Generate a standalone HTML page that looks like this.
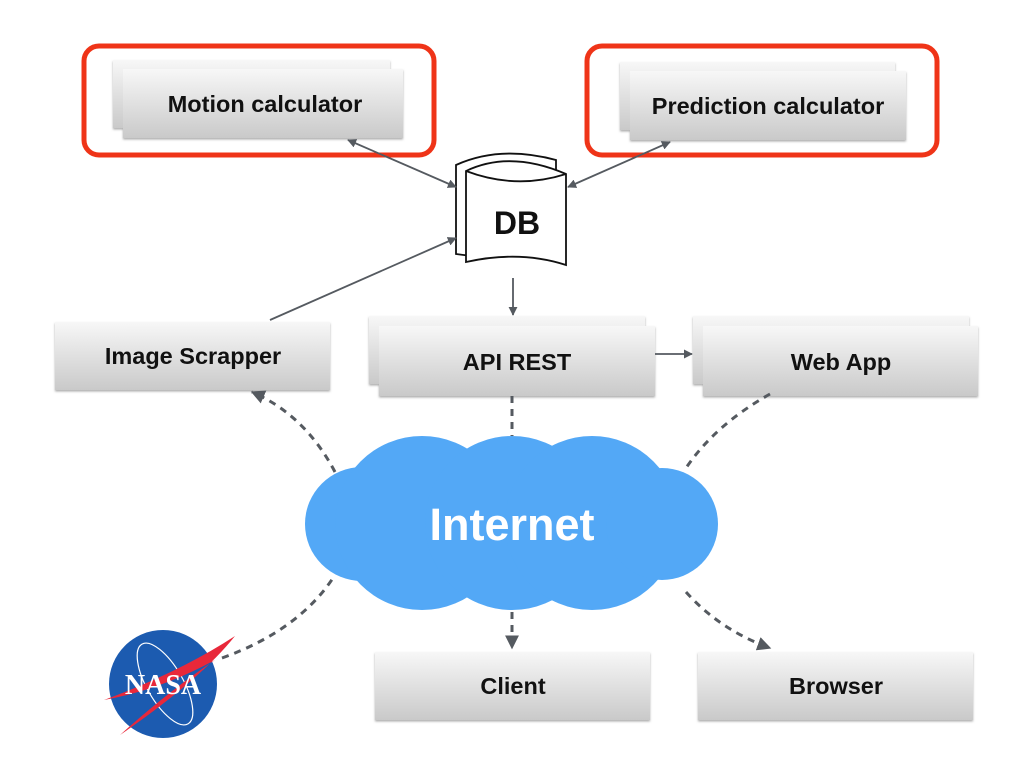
<!DOCTYPE html>
<html><head><style>body{margin:0;background:#fff}svg{display:block}</style></head><body>
<svg width="1024" height="768" viewBox="0 0 1024 768" xmlns="http://www.w3.org/2000/svg" font-family="Liberation Sans, sans-serif">
<defs>
<linearGradient id="g" x1="0" y1="0" x2="0" y2="1"><stop offset="0" stop-color="#f7f7f7"/><stop offset="1" stop-color="#c9c9c9"/></linearGradient>
<filter id="s" x="-5%" y="-5%" width="110%" height="120%"><feDropShadow dx="0" dy="1.5" stdDeviation="1" flood-color="#777" flood-opacity="0.6"/></filter>
<marker id="a" viewBox="0 0 10 10" refX="9" refY="5" markerWidth="9" markerHeight="9" orient="auto-start-reverse" markerUnits="userSpaceOnUse"><path d="M0,0L10,5L0,10z" fill="#555a60"/></marker>
<marker id="b" viewBox="0 0 10 10" refX="9" refY="5" markerWidth="14" markerHeight="14" orient="auto" markerUnits="userSpaceOnUse"><path d="M0,0L10,5L0,10z" fill="#555a60"/></marker>
</defs>
<g fill="url(#g)" filter="url(#s)">
<rect x="113" y="60" width="277" height="68"/><rect x="123" y="69" width="280" height="69"/>
<rect x="620" y="62" width="275" height="68"/><rect x="630" y="71" width="276" height="69"/>
<rect x="55" y="322" width="275" height="68"/>
<rect x="369" y="316" width="276" height="68"/><rect x="379" y="326" width="276" height="70"/>
<rect x="693" y="316" width="276" height="68"/><rect x="703" y="326" width="275" height="70"/>
<rect x="375" y="652" width="275" height="68"/>
<rect x="698" y="652" width="275" height="68"/>
</g>
<rect x="84" y="46" width="350" height="109" rx="15" fill="none" stroke="#ef3418" stroke-width="5"/>
<rect x="587" y="46" width="350" height="109" rx="15" fill="none" stroke="#ef3418" stroke-width="5"/>
<g font-weight="bold" font-size="23.5" text-anchor="middle" fill="#111">
<text x="265" y="112">Motion calculator</text>
<text x="768" y="114">Prediction calculator</text>
<text x="193" y="364">Image Scrapper</text>
<text x="517" y="370">API REST</text>
<text x="841" y="370">Web App</text>
<text x="513" y="694">Client</text>
<text x="836" y="694">Browser</text>
</g>
<g fill="#fff" stroke="#111" stroke-width="1.8">
<path d="M456,165 Q500,145 556,160 L556,248 Q510,262 456,254 Z"/>
<path d="M466,171 Q510,150 566,174 L566,265 Q520,250 466,262 Z"/>
<path d="M466,171 Q516,190 566,174" fill="none"/>
</g>
<text x="517" y="234" font-size="32" font-weight="bold" text-anchor="middle" fill="#111">DB</text>
<g stroke="#555a60" stroke-width="1.8" fill="none">
<line x1="348" y1="140" x2="456" y2="187" marker-start="url(#a)" marker-end="url(#a)"/>
<line x1="670" y1="142" x2="568" y2="187" marker-start="url(#a)" marker-end="url(#a)"/>
<line x1="270" y1="320" x2="456" y2="238" marker-end="url(#a)"/>
<line x1="513" y1="278" x2="513" y2="315" marker-end="url(#a)"/>
<line x1="655" y1="354" x2="692" y2="354" marker-end="url(#a)"/>
</g>
<g fill="#53a8f6">
<circle cx="362" cy="524" r="57"/><circle cx="422" cy="523" r="87"/><circle cx="512" cy="523" r="87"/><circle cx="592" cy="523" r="87"/><circle cx="662" cy="524" r="56"/>
</g>
<text x="512" y="540" font-size="45" font-weight="bold" text-anchor="middle" fill="#fff">Internet</text>
<g stroke="#555a60" stroke-width="3" stroke-dasharray="7,6" fill="none">
<line x1="512" y1="396" x2="512" y2="436"/>
<path d="M335,472 Q305,415 252,392" marker-end="url(#b)"/>
<path d="M770,394 Q715,425 686,468"/>
<line x1="512" y1="612" x2="512" y2="648" marker-end="url(#b)"/>
<path d="M686,592 Q720,630 770,648" marker-end="url(#b)"/>
<path d="M222,658 Q300,630 335,575"/>
</g>
<circle cx="163" cy="684" r="54" fill="#1c5bb0"/>
<ellipse cx="165" cy="684" rx="18" ry="46" transform="rotate(-30 165 684)" fill="none" stroke="#fff" stroke-width="1.2"/>
<path d="M104,700 Q180,672 235,636 Q200,680 120,735 Q170,690 215,660 Q160,690 104,700z" fill="#e8283a"/>
<text x="163" y="694" font-size="28" font-weight="bold" text-anchor="middle" fill="#fff" font-family="Liberation Serif, serif">NASA</text>
</svg>
</body></html>
